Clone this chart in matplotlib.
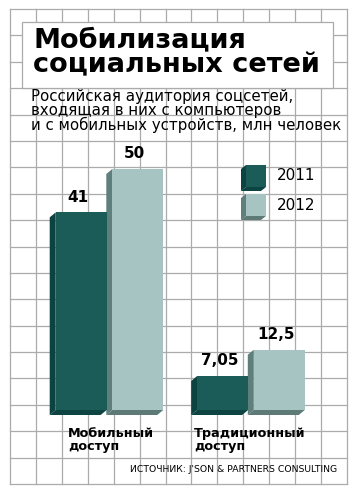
import numpy as np
import matplotlib
matplotlib.use("Agg")
import matplotlib.pyplot as plt
from matplotlib.patches import Rectangle, Polygon

# данные
categories = ["Мобильный\nдоступ", "Традиционный\nдоступ"]
years = ["2011", "2012"]
values_2011 = [41, 7.05]
values_2012 = [50, 12.5]
labels_2011 = ["41", "7,05"]
labels_2012 = ["50", "12,5"]

title = "Мобилизация\nсоциальных сетей"
subtitle = ("Российская аудитория соцсетей,\n"
            "входящая в них с компьютеров\n"
            "и с мобильных устройств, млн человек")
source = "ИСТОЧНИК: J'SON & PARTNERS CONSULTING"

front = ["#1b5b58", "#a5c4c2"]
side = ["#0c4240", "#5f7f7c"]
bottom = ["#0d4341", "#5d7a77"]
grid_col = "#ababab"

W, H = 360, 495
fig = plt.figure(figsize=(W / 100, H / 100), dpi=100)
fig.patch.set_facecolor("white")

# фон: сетка в пикселях
bg = fig.add_axes([0, 0, 1, 1])
bg.set_xlim(0, W)
bg.set_ylim(H, 0)
bg.axis("off")

x0, x1, y0, y1 = 10, 347, 9, 484
for gx in np.linspace(x0, x1, 14):
    bg.plot([gx, gx], [y0, y1], color=grid_col, lw=0.9, zorder=1)
for gy in np.linspace(y0, y1, 19):
    bg.plot([x0, x1], [gy, gy], color=grid_col, lw=0.9, zorder=1)

bg.add_patch(Rectangle((22, 22), 311, 66, facecolor="white",
                       edgecolor=grid_col, lw=0.9, zorder=2))
bg.text(33, 53, title, fontsize=19.5, fontweight="bold", color="black",
        va="center", ha="left", linespacing=0.92, zorder=3)
bg.text(31, 111, subtitle, fontsize=10.8, color="black", va="center",
        ha="left", linespacing=0.9, zorder=3)
bg.text(337, 470, source, fontsize=6.7, color="black", va="center",
        ha="right", family=["Liberation Sans Narrow", "DejaVu Sans"], zorder=3)

# легенда
def box3d(ax, xl, yt, w, h, dx, dy, i, z=3):
    ax.add_patch(Polygon([(xl, yt), (xl, yt + h), (xl + dx, yt + h + dy), (xl + dx, yt + dy)],
                         closed=True, facecolor=side[i], edgecolor="none", zorder=z))
    ax.add_patch(Polygon([(xl, yt + h), (xl + w, yt + h), (xl + w + dx, yt + h + dy), (xl + dx, yt + h + dy)],
                         closed=True, facecolor=bottom[i], edgecolor="none", zorder=z))
    ax.add_patch(Rectangle((xl, yt), w, h, facecolor=front[i], edgecolor="none", zorder=z + 0.1))

for i, (yr, ly) in enumerate(zip(years, [165, 194])):
    box3d(bg, 246, ly, 20, 22, -5, 4, i)
    bg.text(277, ly + 11, yr, fontsize=11, va="center", ha="left", zorder=3)

# столбцы
ax = fig.add_axes([40 / W, (H - 410) / H, 280 / W, 60 * 4.82 / H])
ax.set_xlim(-0.491, 1.488)
ax.set_ylim(0, 60)
ax.axis("off")
ax.patch.set_alpha(0)

x = np.arange(len(categories))
width = 0.36
off = 0.2
dx = -6 / 141.5
dy = -5 / 4.82

for i, (vals, labs) in enumerate([(values_2011, labels_2011), (values_2012, labels_2012)]):
    pos = x + (i * 2 - 1) * off
    bars = ax.bar(pos, vals, width, color=front[i], zorder=3)
    for b, lab in zip(bars, labs):
        xl = b.get_x()
        xr = xl + b.get_width()
        top = b.get_height()
        ax.add_patch(Polygon([(xl, top), (xl, 0), (xl + dx, dy), (xl + dx, top + dy)],
                             closed=True, facecolor=side[i], edgecolor="none",
                             zorder=2, clip_on=False))
        ax.add_patch(Polygon([(xl, 0), (xr, 0), (xr + dx, dy), (xl + dx, dy)],
                             closed=True, facecolor=bottom[i], edgecolor="none",
                             zorder=2, clip_on=False))
        ax.annotate(lab, (xl + (dx + b.get_width()) / 2, top), xytext=(0, 5.5),
                    textcoords="offset points", ha="center", va="bottom",
                    fontsize=11, fontweight="bold", zorder=4)

cat_dx = [13, 2]
for xc, cat, cdx in zip(x, categories, cat_dx):
    ax.annotate(cat, (xc - off - width / 2 + dx, 0), xytext=(cdx, -12.5),
                textcoords="offset points", ha="left", va="top",
                fontsize=9.2, fontweight="bold", linespacing=0.92,
                annotation_clip=False)

fig.savefig("out.png", dpi=100)
